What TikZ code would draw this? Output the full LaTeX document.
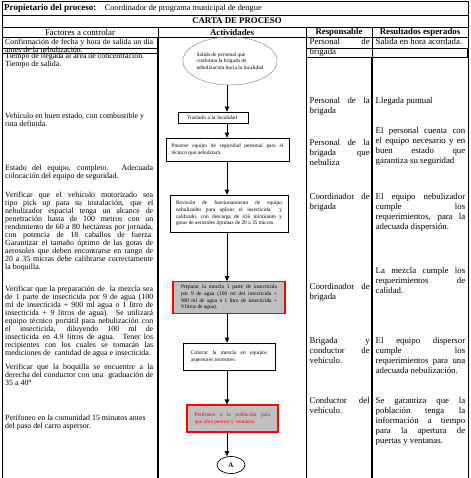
\documentclass[tikz,border=0pt]{standalone}
\usepackage{fontspec}
\setmainfont{Liberation Serif}
\usetikzlibrary{shapes.geometric, arrows.meta, positioning}
\tolerance=10000
\hbadness=10000
\hyphenpenalty=10000

\begin{document}
\begin{tikzpicture}[
    x=1pt, y=-1pt,
    frame/.style={line width=0.8pt},
    heavy/.style={line width=1.5pt},
    header/.style={inner sep=0pt, font=\fontsize{8.8}{10}\selectfont\bfseries},
    factor/.style={inner sep=0pt, anchor=north west, text width=148pt, align=justify, font=\fontsize{7.9}{8}\selectfont},
    resp/.style={inner sep=0pt, anchor=north west, text width=60pt, align=justify, font=\fontsize{8.8}{10}\selectfont},
    result/.style={resp, text width=89.5pt},
    activity/.style={rectangle, draw=black, line width=0.7pt, align=justify, font=\fontsize{5.4}{6.7}\selectfont},
    hot/.style={activity, draw=red, line width=1.1pt, fill=black!25},
    arrow/.style={-{Triangle[length=5pt, width=4.5pt]}, line width=0.9pt}
]
    \useasboundingbox (0,0) rectangle (470,478);

    % Table frame
    \draw[frame] (2,1.5) -- (468,1.5);
    \draw[frame] (2,15) -- (468,15);
    \draw[frame] (2,27) -- (468,27);
    \draw[frame] (2,37) -- (468,37);
    \draw[frame] (2,48) -- (158,48) (306,48) -- (468,48);
    \draw[frame] (2,53.3) -- (158,53.3);
    \draw[frame] (306,57) -- (468,57);
    \draw[frame] (2,1.5) -- (2,478);
    \draw[frame] (468,1.5) -- (468,478);
    \draw[frame] (306,27) -- (306,478);
    \draw[frame] (158,27) -- (158,37);
    \draw[heavy] (158,37) -- (158,478);
    \draw[frame] (372,27) -- (372,57);
    \draw[heavy] (372,57) -- (372,478);
    \draw[heavy] (468,48) -- (468,57);

    % Title rows
    \node[header, anchor=west, font=\fontsize{9}{10}\selectfont\bfseries] (owner) at (4,8.5) {Propietario del proceso:};
    \node[inner sep=0pt, anchor=base west, font=\fontsize{8.3}{10}\selectfont] (ownername) at ([xshift=8pt]owner.base east) {Coordinador de programa municipal de dengue};
    \node[header] (carta) at (237,21) {CARTA DE PROCESO};

    \node[header, font=\fontsize{8.8}{10}\selectfont] (h_factores) at (80,32) {Factores a controlar};
    \node[header] (h_actividades) at (232,32) {Actividades};
    \node[header] (h_responsable) at (339,32) {Responsable};
    \node[header] (h_resultados) at (420,32) {Resultados esperados};

    % Factores a controlar
    \node[factor] (f_fecha) at (5,38.4) {Confirmación de fecha y hora de salida un día\linebreak antes de la nebulización.};
    \node[factor] (f_tiempo) at (5,53.2) {Tiempo de llegada al área de concentración.\\ Tiempo de salida.};
    \node[factor] (f_vehiculo) at (5,112.9) {Vehículo en buen estado, con combustible y\\ ruta definida.};
    \node[factor] (f_estado) at (5,164.9) {Estado del equipo, completo. Adecuada\linebreak colocación del equipo de seguridad.};
    \node[factor] (f_pickup) at (5,191.9) {Verificar que el vehículo motorizado sea\linebreak tipo pick up para su instalación, que el\linebreak nebulizador espacial tenga un alcance de\linebreak penetración hasta de 100 metros con un\linebreak rendimiento de 60 a 80 hectáreas por jornada,\linebreak con potencia de 18 caballos de fuerza.\linebreak Garantizar el tamaño óptimo de las gotas de\linebreak aerosoles que deben encontrarse en rango de\linebreak 20 a 35 micras debe calibrarse correctamente\linebreak la boquilla.};
    \node[factor] (f_mezcla) at (5,285.9) {Verificar que la preparación de\ \ la mezcla sea\linebreak de 1 parte de insecticida por 9 de agua (100\linebreak ml de insecticida + 900 ml agua o 1 litro de\linebreak insecticida + 9 litros de agua). Se utilizará\linebreak equipo técnico portátil para nebulización con\linebreak el insecticida, diluyendo 100 ml de\linebreak insecticida en 4.9 litros de agua. Tener los\linebreak recipientes con los cuales se tomarán las\linebreak mediciones de\ \ cantidad de agua e insecticida.};
    \node[factor] (f_boquilla) at (5,363.9) {Verificar que la boquilla se encuentre a la\linebreak derecha del conductor con una\ \ graduación de\linebreak 35 a 40°};
    \node[factor] (f_perifoneo) at (5,414.9) {Perifoneo en la comunidad 15 minutos antes\\ del paso del carro aspersor.};

    % Actividades
    \coordinate (spine) at (227,0);
    \node[activity, shape=ellipse, draw=black!45, line width=0.5pt, minimum width=94pt, minimum height=48pt, inner sep=0pt, align=left] (salida) at (230,61) {Salida de personal que\\conforma la brigada de\\nebulización hacia la localidad};
    \node[activity, text width=52pt, inner xsep=9pt, minimum height=11pt, align=left] (traslado) at (213,117.5) {Traslado a la localidad};
    \node[activity, text width=112pt, inner xsep=5.5pt, minimum height=23pt] (seguridad) at (227.5,149.5) {Ponerse equipo de seguridad personal para el\linebreak técnico que nebulizará.};
    \node[activity, text width=106pt, inner xsep=6pt, minimum height=37pt] (revision) at (229,213.5) {Revisión de funcionamiento de equipo\linebreak nebulizador para aplicar el insecticida\ \ y\linebreak calibrado, con descarga de 416 ml/minuto y\linebreak gotas de aerosoles óptimas de 20 a 35 micras.};
    \node[hot, text width=96pt, inner xsep=8pt, minimum height=31pt] (preparar) at (229,297.5) {Preparar la mezcla 1 parte de insecticida\linebreak por 9 de agua (100 ml del insecticida +\linebreak 900 ml de agua o 1 litro de insecticida +\linebreak 9 litros de agua).};
    \node[activity, text width=76pt, inner xsep=8pt, minimum height=27pt] (colocar) at (229,356.5) {Colocar la mezcla en equipos\linebreak aspersores terrestres.};
    \node[hot, text=red, text width=76pt, inner xsep=7.5pt, minimum height=27pt] (aviso) at (232.5,418.5) {Perifoneo a la población para\linebreak que abra puertas y ventanas.};
    \node[draw, ellipse, line width=0.7pt, minimum width=28pt, minimum height=17pt, inner sep=0pt, font=\fontsize{7}{8}\selectfont\bfseries] (conector) at (231,465) {A};

    \draw[arrow] (salida.south -| spine) -- (traslado.north -| spine);
    \draw[arrow] (traslado.south -| spine) -- (seguridad.north -| spine);
    \draw[arrow] (seguridad.south -| spine) -- (revision.north -| spine);
    \draw[arrow] (revision.south -| spine) -- (preparar.north -| spine);
    \draw[arrow] (preparar.south -| spine) -- (colocar.north -| spine);
    \draw[arrow] (colocar.south -| spine) -- (aviso.north -| spine);
    \draw[arrow] (aviso.south -| spine) -- (conector.north -| spine);

    % Responsable
    \node[resp] (r_salida) at (309.5,38.6) {Personal de\linebreak brigada};
    \node[resp] (r_traslado) at (309.5,97.6) {Personal de la\linebreak brigada};
    \node[resp] (r_seguridad) at (309.5,139.6) {Personal de la\linebreak brigada que\linebreak nebuliza};
    \node[resp] (r_revision) at (309.5,193.6) {Coordinador de\linebreak brigada};
    \node[resp] (r_preparar) at (309.5,283.6) {Coordinador de\linebreak brigada};
    \node[resp] (r_colocar) at (309.5,337.6) {Brigada y\linebreak conductor de\linebreak vehículo.};
    \node[resp] (r_aviso) at (309.5,397.6) {Conductor del\linebreak vehículo.};

    % Resultados esperados
    \node[result] (e_salida) at (375.5,38.6) {Salida en hora acordada.};
    \node[result] (e_traslado) at (375.5,97.6) {Llegada puntual};
    \node[result] (e_seguridad) at (375.5,127.6) {El personal cuenta con\linebreak el equipo necesario y en\linebreak buen estado que\linebreak garantiza su seguridad};
    \node[result] (e_revision) at (375.5,193.6) {El equipo nebulizador\linebreak cumple los\linebreak requerimientos, para la\linebreak adecuada dispersión.};
    \node[result] (e_preparar) at (375.5,267.6) {La mezcla cumple los\linebreak requerimientos de\linebreak calidad.};
    \node[result] (e_colocar) at (375.5,337.6) {El equipo dispersor\linebreak cumple los\linebreak requerimientos para una\linebreak adecuada nebulización.};
    \node[result] (e_aviso) at (375.5,397.6) {Se garantiza que la\linebreak población tenga la\linebreak información a tiempo\linebreak para la apertura de\linebreak puertas y ventanas.};

\end{tikzpicture}
\end{document}
